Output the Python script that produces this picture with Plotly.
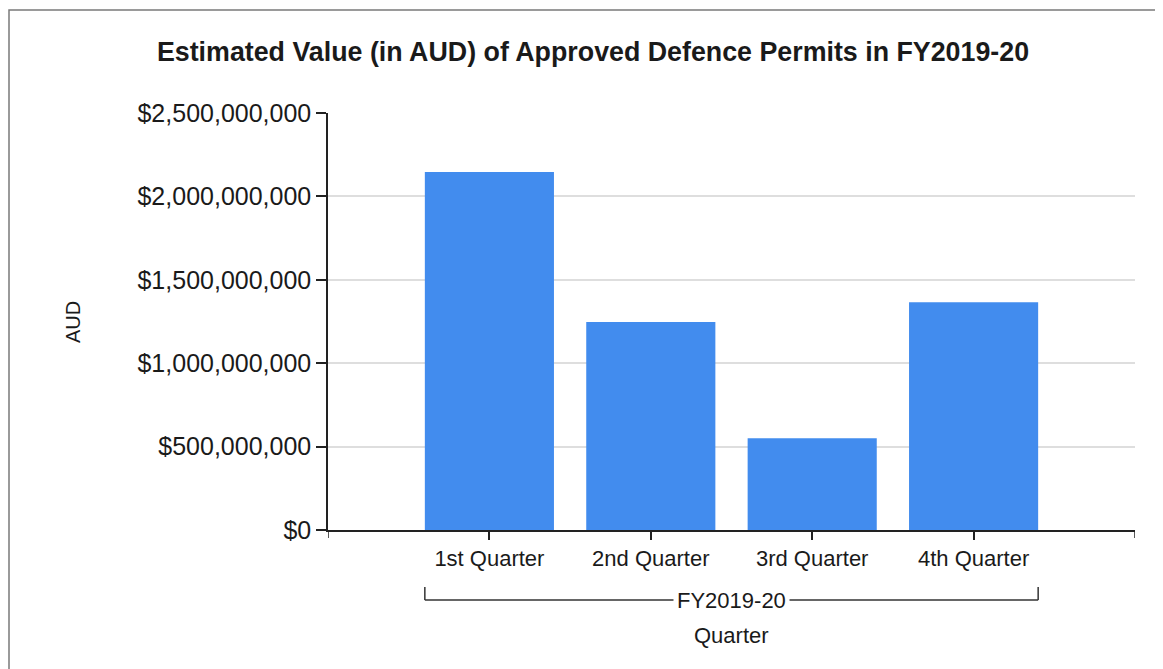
import plotly.graph_objects as go

# ---- data ----
quarters = ["1st Quarter", "2nd Quarter", "3rd Quarter", "4th Quarter"]
values_aud = [2146000000, 1247000000, 550000000, 1365000000]
group_label = "FY2019-20"
y_tick_values = [0, 500000000, 1000000000, 1500000000, 2000000000, 2500000000]
y_tick_labels = ["$" + f"{v:,}" for v in y_tick_values]

title_text = "Estimated Value (in AUD) of Approved Defence Permits in FY2019-20"
FONT = "Liberation Sans, Arial, sans-serif"
TXT = "#1a1a1a"
BAR = "#428CEE"

OFF = 8  # page body margin
W, H = 1163 - OFF, 669 - OFF
# target page pixel positions of plot area
PL, PR, PT, PB = 328, 1135, 113, 530
L, T = PL - OFF, PT - OFF
R = W - (PR - OFF)
B = H - (PB - OFF)
pw, ph = W - L - R, H - T - B

def px_x(px):  # page px -> paper x
    return (px - PL) / pw

def px_y(py):  # page px -> paper y
    return (PB - py) / ph

fig = go.Figure()
fig.add_trace(go.Bar(
    x=quarters, y=values_aud, marker=dict(color=BAR, line=dict(width=0)),
    width=0.8, showlegend=False,
))

n = len(quarters)
shapes = []
# outer frame
shapes.append(dict(type="rect", xref="paper", yref="paper",
                   x0=px_x(9), x1=px_x(1200), y0=px_y(700), y1=px_y(10),
                   line=dict(color="#7a7a7a", width=1.5), fillcolor="rgba(0,0,0,0)", layer="below"))
# end ticks on the category axis
for xv in (-1, n):
    shapes.append(dict(type="line", xref="x", yref="paper", x0=xv, x1=xv,
                       y0=0, y1=px_y(PB + 8), line=dict(color="#222", width=1.5)))
# group bracket
bx0, bx1 = -0.4, n - 1 + 0.4
by = px_y(600)
byt = px_y(587)
shapes.append(dict(type="line", xref="x", yref="paper", x0=bx0, x1=bx1, y0=by, y1=by,
                   line=dict(color="#333", width=1.5)))
for xv in (bx0, bx1):
    shapes.append(dict(type="line", xref="x", yref="paper", x0=xv, x1=xv, y0=by, y1=byt,
                       line=dict(color="#333", width=1.5)))

annotations = [
    dict(text=group_label, xref="x", yref="paper", x=(n - 1) / 2, y=by, showarrow=False,
         xanchor="center", yanchor="middle", bgcolor="white", borderpad=3,
         font=dict(family=FONT, size=22, color=TXT)),
    dict(text="Quarter", xref="paper", yref="paper", x=px_x(731), y=px_y(635), showarrow=False,
         xanchor="center", yanchor="middle", font=dict(family=FONT, size=22, color=TXT)),
    dict(text="AUD", xref="paper", yref="paper", x=px_x(73), y=px_y(322), showarrow=False,
         textangle=-90, xanchor="center", yanchor="middle",
         font=dict(family=FONT, size=20, color=TXT)),
]

fig.update_layout(
    width=W, height=H,
    margin=dict(l=L, r=R, t=T, b=B, autoexpand=False),
    paper_bgcolor="white", plot_bgcolor="white",
    title=dict(text="<b>" + title_text + "</b>", x=(593 - OFF) / W, xref="container",
               xanchor="center", y=1 - (52 - OFF) / H, yref="container", yanchor="middle",
               font=dict(family=FONT, size=26.8, color=TXT)),
    xaxis=dict(type="category", range=[-1, n], showline=True, linecolor="#222", linewidth=1.5,
               ticks="outside", ticklen=8, tickcolor="#222", tickwidth=1.5,
               showgrid=False, tickfont=dict(family=FONT, size=22, color=TXT), fixedrange=True),
    yaxis=dict(range=[0, 2500000000], tickvals=y_tick_values, ticktext=y_tick_labels,
               showline=True, linecolor="#222", linewidth=1.5,
               ticks="outside", ticklen=10, tickcolor="#222", tickwidth=1.5,
               showgrid=True, gridcolor="#dedede", gridwidth=1.5, zeroline=False,
               tickfont=dict(family=FONT, size=25, color=TXT), fixedrange=True),
    shapes=shapes, annotations=annotations,
    bargap=0.2,
)

fig.write_html("out.html", config={"displayModeBar": False})
